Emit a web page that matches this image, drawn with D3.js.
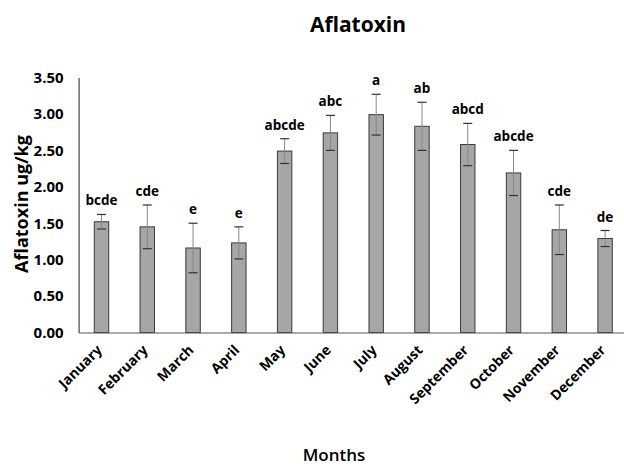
<!DOCTYPE html>
<html>
<head>
<meta charset="utf-8">
<script src="https://cdn.jsdelivr.net/npm/d3@7"></script>
<style>
  body { margin: 0; background: #fff; }
  text { font-family: "Open Sans", sans-serif; fill: #000; }
</style>
</head>
<body>
<div id="container"></div>
<script>
const months = ["January", "February", "March", "April", "May", "June",
    "July", "August", "September", "October", "November", "December"];
const means = [1.52, 1.45, 1.16, 1.23, 2.49, 2.74, 2.99, 2.83, 2.58, 2.19, 1.41, 1.29];
const errors = [0.10, 0.30, 0.34, 0.22, 0.17, 0.24, 0.28, 0.33, 0.29, 0.31, 0.34, 0.11];
const letters = ["bcde", "cde", "e", "e", "abcde", "abc", "a", "ab", "abcd", "abcde", "cde", "de"];
const yTicks = [0, 0.5, 1, 1.5, 2, 2.5, 3, 3.5];

const width = 624;
const height = 469;
const margin = { top: 77.5, bottom: 136.5, left: 78.6, right: -4 };

const svg = d3.select("#container")
    .append('svg')
    .attr('width', width)
    .attr('height', height)
    .attr('viewBox', [0, 0, width, height]);

const x = d3.scaleBand()
    .domain(months)
    .range([margin.left, width - margin.right])
    .paddingInner(0.685)
    .paddingOuter(0.3425);

const y = d3.scaleLinear()
    .domain([0, 3.5])
    .range([height - margin.bottom, margin.top]);

// y axis
const yAxis = svg.append('g')
    .attr('transform', `translate(${margin.left},0)`)
    .call(d3.axisLeft(y)
        .tickValues(yTicks)
        .tickFormat(d3.format(".2f"))
        .tickSize(0)
        .tickPadding(15));
yAxis.select('.domain').attr('stroke', '#222');
yAxis.selectAll('text')
    .style('font-size', '15px')
    .style('font-weight', 700)
    .style('font-family', '"Open Sans", sans-serif');

// bars
svg.append('g')
    .selectAll('rect')
    .data(months)
    .join('rect')
    .attr('x', d => x(d))
    .attr('y', (d, i) => y(means[i]))
    .attr('width', x.bandwidth())
    .attr('height', (d, i) => y(0) - y(means[i]))
    .attr('fill', '#a6a6a6')
    .attr('stroke', '#3a3a3a')
    .attr('stroke-width', 1);

// x axis
const xAxis = svg.append('g')
    .attr('transform', `translate(0,${y(0)})`)
    .call(d3.axisBottom(x).tickSize(0).tickSizeOuter(0).tickPadding(0));
xAxis.select('.domain').attr('stroke', '#555');
xAxis.selectAll('text')
    .style('font-size', '14px')
    .style('font-weight', 700)
    .style('font-family', '"Open Sans", sans-serif')
    .attr('text-anchor', 'end')
    .attr('dy', '0.35em')
    .attr('transform', 'translate(-2,15) rotate(-45)');

// error bars
const cap = 4.5;
const eb = svg.append('g');
months.forEach((m, i) => {
    const cx = x(m) + x.bandwidth() / 2;
    const top = y(means[i] + errors[i]);
    const bot = y(means[i] - errors[i]);
    eb.append('line')
        .attr('x1', cx).attr('x2', cx)
        .attr('y1', top).attr('y2', bot)
        .attr('stroke', '#888').attr('stroke-width', 1);
    [top, bot].forEach(v => {
        eb.append('line')
            .attr('x1', cx - cap).attr('x2', cx + cap)
            .attr('y1', v).attr('y2', v)
            .attr('stroke', '#333').attr('stroke-width', 1.2);
    });
});

// significance letters
svg.append('g')
    .selectAll('text')
    .data(letters)
    .join('text')
    .attr('x', (d, i) => x(months[i]) + x.bandwidth() / 2)
    .attr('y', (d, i) => y(means[i] + errors[i]) - 9)
    .attr('text-anchor', 'middle')
    .style('font-size', '13.5px')
    .style('font-weight', 700)
    .text(d => d);

// titles
svg.append('text')
    .attr('x', 358)
    .attr('y', 32)
    .attr('text-anchor', 'middle')
    .style('font-size', '21px')
    .style('font-weight', 700)
    .text('Aflatoxin');

svg.append('text')
    .attr('transform', 'translate(28,204) rotate(-90)')
    .attr('text-anchor', 'middle')
    .style('font-size', '18px')
    .style('font-weight', 700)
    .text('Aflatoxin ug/kg');

svg.append('text')
    .attr('x', 334)
    .attr('y', 461)
    .attr('text-anchor', 'middle')
    .style('font-size', '17px')
    .style('font-weight', 600)
    .text('Months');
</script>
</body>
</html>
